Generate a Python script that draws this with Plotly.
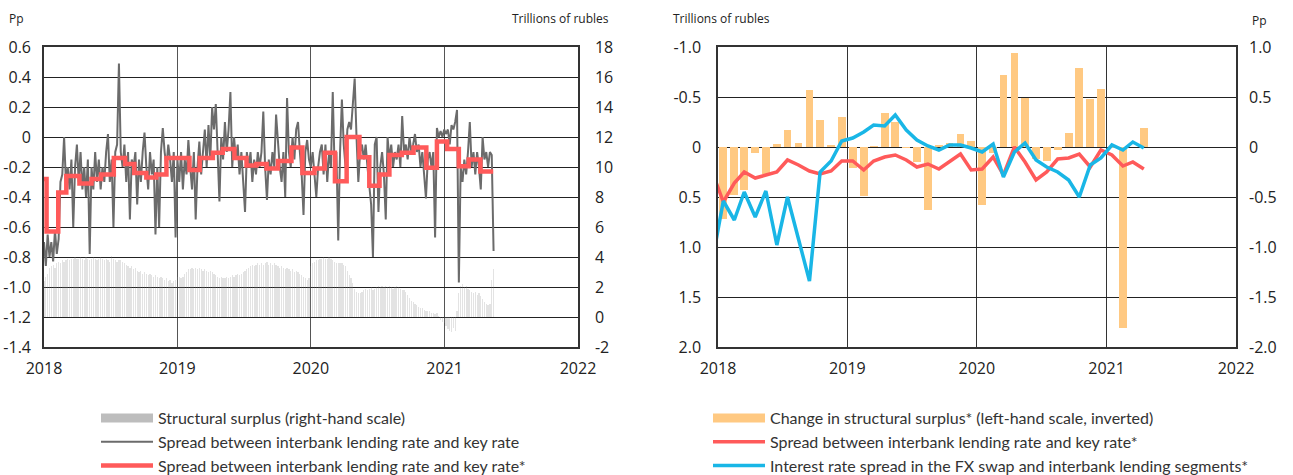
import plotly.graph_objects as go
import pandas as pd

# ---------------- Left chart data (5-day grid from 2018-01-01) ----------------
gray_2018 = [-0.70, -0.86, -0.65, -0.80, -0.70, -0.83, -0.62, -0.78, -0.68, -0.30,
             -0.25, 0.00, -0.30, -0.20, -0.35, -0.15, -0.60, -0.20, -0.05, -0.30,
             -0.10, -0.35, -0.20, -0.40, -0.15, -0.78, -0.20, -0.35, -0.10, -0.30,
             -0.15, -0.35, -0.20, -0.30, -0.10, 0.02, -0.30, -0.15, -0.60, -0.10,
             -0.05, 0.49, -0.10, -0.20, -0.05, -0.30, -0.10, -0.55, -0.15, -0.20,
             -0.10, -0.45, -0.15, -0.30, -0.10, 0.03, -0.20, -0.35, -0.10, -0.25,
             -0.15, -0.65, -0.20, -0.60, -0.10, 0.06, -0.10, -0.20, -0.05, -0.15,
             -0.30, -0.10, -0.67]
gray_2019 = [-0.15, -0.30, -0.10, -0.35, -0.15, -0.25, -0.02, -0.20, -0.35, -0.10,
             -0.55, -0.20, -0.03, -0.25, -0.10, 0.05, -0.20, 0.08, -0.15, 0.20,
             0.05, 0.22, -0.10, -0.43, 0.00, -0.15, 0.10, -0.10, 0.05, 0.30,
             -0.20, 0.00, -0.15, -0.05, -0.25, -0.10, -0.30, -0.50, -0.10, -0.20,
             -0.10, -0.30, -0.15, -0.25, -0.10, -0.20, -0.10, 0.17, -0.20, -0.42,
             -0.15, -0.25, -0.10, -0.20, 0.15, -0.05, -0.20, -0.30, -0.10, -0.40,
             0.26, -0.10, -0.20, 0.00, -0.15, 0.05, 0.10, -0.10, -0.25, -0.52,
             -0.10, -0.02, -0.15]
gray_2020 = [-0.20, -0.10, -0.25, -0.40, -0.20, -0.10, -0.05, -0.25, -0.05, -0.30,
             -0.10, -0.20, 0.30, -0.20, -0.10, -0.69, -0.10, 0.25, -0.05, -0.20,
             0.05, 0.10, 0.05, 0.20, 0.39, 0.00, -0.30, -0.10, -0.05, -0.15,
             -0.05, -0.20, -0.35, -0.45, -0.80, -0.05, 0.00, -0.50, -0.20, -0.10,
             -0.25, -0.55, 0.00, -0.15, -0.05, -0.20, -0.10, -0.15, -0.05, -0.20,
             0.14, -0.10, -0.05, -0.15, 0.00, -0.10, -0.05, 0.02, -0.10, -0.05,
             -0.20, -0.10, -0.25, -0.41, -0.15, -0.10, -0.20, -0.10, -0.67, 0.06,
             0.00, 0.04, 0.00, 0.05]
gray_2021 = [0.02, 0.05, -0.05, 0.08, 0.05, 0.10, 0.18, -0.97, -0.20, -0.30,
             -0.15, -0.25, -0.10, 0.10, -0.20, -0.10, -0.25, -0.10, -0.20, -0.35,
             0.00, -0.15, -0.10, -0.20, -0.10, -0.12, -0.76]

surplus_2018 = [2.4, 2.7, 2.9, 3.3, 3.4, 3.5, 3.3, 3.6, 3.7, 3.6,
                3.8, 3.7, 3.8, 3.9, 3.8, 3.9, 3.9, 4.0, 3.9, 3.9,
                4.0, 3.9, 3.8, 4.0, 3.9, 3.8, 3.9, 4.0, 3.9, 3.8,
                3.9, 4.0, 3.9, 3.8, 3.9, 3.8, 3.7, 4.1, 3.9, 3.8,
                3.7, 3.8, 3.8, 3.7, 3.6, 3.5, 3.4, 3.3, 3.4, 3.2,
                3.3, 3.1, 3.0, 3.1, 2.9, 3.0, 2.9, 2.8, 2.9, 2.8,
                2.7, 2.8, 2.7, 2.6, 2.7, 2.6, 2.5, 2.6, 2.4, 2.5,
                2.3, 2.4, 2.5]
surplus_2019 = [2.7, 2.7, 2.6, 2.7, 2.9, 3.0, 3.2, 3.2, 3.3, 3.2,
                3.3, 3.2, 3.3, 3.2, 3.1, 3.2, 3.1, 3.0, 3.1, 3.0,
                2.9, 2.8, 2.7, 2.6, 2.7, 2.6, 2.6, 2.7, 2.6, 2.7,
                2.8, 2.7, 2.8, 2.9, 2.8, 2.9, 3.0, 3.1, 3.2, 3.3,
                3.4, 3.5, 3.4, 3.5, 3.6, 3.5, 3.6, 3.5, 3.6, 3.7,
                3.5, 3.6, 3.5, 3.6, 3.5, 3.4, 3.3, 3.4, 3.3, 3.2,
                3.3, 3.2, 3.1, 3.2, 3.0, 3.1, 3.0, 2.9, 2.8, 2.7,
                2.6, 2.5, 2.6]
surplus_2020 = [3.4, 3.6, 3.7, 3.8, 3.8, 3.9, 3.9, 4.0, 3.9, 3.9,
                4.0, 3.9, 3.8, 3.7, 3.6, 3.6, 3.6, 3.6, 3.5, 3.4,
                3.1, 2.8, 2.6, 2.3, 1.9, 1.7, 1.6, 1.6, 1.7, 1.8,
                1.9, 1.8, 1.9, 2.0, 1.8, 1.9, 2.0, 2.1, 2.0, 2.1,
                2.0, 2.1, 2.0, 2.1, 2.0, 1.9, 2.0, 2.1, 2.0, 1.9,
                1.8, 1.8, 1.7, 1.5, 1.3, 1.1, 1.0, 0.9, 0.8, 0.7,
                0.6, 0.6, 0.5, 0.4, 0.4, 0.4, 0.3, 0.3, 0.2, 0.3,
                0.1, -0.2, -0.3, -0.4]
surplus_2021 = [-0.6, -0.8, -0.9, -1.0, -0.7, -0.9, 0.4, 1.6, 2.1, 2.2,
                2.0, 2.1, 1.9, 1.8, 1.7, 1.6, 1.7, 1.5, 1.6, 1.4,
                1.2, 1.0, 0.9, 0.8, 0.9, 2.5, 3.2]

# Averaging-period spread (step line): period start dates and values
step_dates = ['2018-01-01', '2018-01-08', '2018-02-09', '2018-03-03', '2018-04-08',
              '2018-05-11', '2018-06-06', '2018-07-11', '2018-08-11', '2018-09-05',
              '2018-10-08', '2018-11-04', '2018-12-02', '2019-02-03', '2019-03-03',
              '2019-04-08', '2019-05-05', '2019-06-06', '2019-07-09', '2019-08-05',
              '2019-09-02', '2019-10-03', '2019-11-09', '2019-12-09', '2020-01-11',
              '2020-02-08', '2020-03-07', '2020-04-08', '2020-05-13', '2020-06-09',
              '2020-07-07', '2020-08-03', '2020-09-06', '2020-10-08', '2020-11-12',
              '2020-12-11', '2021-01-08', '2021-02-09', '2021-03-08', '2021-04-09',
              '2021-05-14']
step_vals = [-0.28, -0.63, -0.37, -0.26, -0.31,
             -0.28, -0.25, -0.14, -0.18, -0.24,
             -0.27, -0.25, -0.14, -0.22, -0.14,
             -0.105, -0.08, -0.14, -0.19, -0.18,
             -0.21, -0.16, -0.07, -0.24, -0.21,
             -0.105, -0.295, 0.00, -0.135, -0.325,
             -0.25, -0.12, -0.105, -0.07, -0.205,
             -0.03, -0.08, -0.195, -0.15, -0.23,
             -0.23]

# ---------------- Right chart data (monthly) ----------------
bar_change = [0.72, 0.48, 0.43, 0.06, 0.27, -0.03, -0.17, -0.04, -0.57, -0.27, -0.02, -0.30,
              0.21, 0.49, -0.01, -0.34, -0.25, 0.01, 0.15, 0.63, -0.02, -0.04, -0.13, -0.06,
              0.58, 0.06, -0.72, -0.94, -0.49, 0.12, 0.14, 0.03, -0.14, -0.79, -0.48, -0.58,
              0.01, 1.81, 0.00, -0.19]
# lines start one month earlier (Dec 2017)
red_spread = [-0.25,
              -0.55, -0.36, -0.25, -0.31, -0.28, -0.25, -0.13, -0.18, -0.24, -0.27, -0.24, -0.14,
              -0.14, -0.23, -0.14, -0.10, -0.08, -0.13, -0.20, -0.17, -0.22, -0.15, -0.07, -0.23,
              -0.22, -0.10, -0.28, 0.00, -0.15, -0.33, -0.25, -0.12, -0.11, -0.07, -0.20, -0.03,
              -0.08, -0.19, -0.15, -0.22]
blue_spread = [-1.14,
               -0.54, -0.73, -0.45, -0.70, -0.44, -0.98, -0.50, -0.92, -1.34, -0.25, -0.14, 0.06,
               0.09, 0.15, 0.22, 0.21, 0.32, 0.17, 0.07, 0.01, -0.03, 0.02, 0.02, -0.01,
               -0.05, 0.03, -0.30, -0.05, 0.04, -0.13, -0.20, -0.25, -0.33, -0.50, -0.18, -0.11,
               0.02, -0.03, 0.05, -0.01]

year_ticks = ['2018-01-01', '2019-01-01', '2020-01-01', '2021-01-01', '2022-01-01']
year_labels = ['2018', '2019', '2020', '2021', '2022']

# ---------------- Build ----------------
gray_vals = gray_2018 + gray_2019 + gray_2020 + gray_2021
surplus_vals = surplus_2018 + surplus_2019 + surplus_2020 + surplus_2021
grid_dates = pd.date_range('2018-01-01', periods=len(gray_vals), freq='5D')
month_mid = pd.date_range('2017-12-01', periods=len(red_spread), freq='MS') + pd.Timedelta(days=15)
bar_months = month_mid[1:]

DAY = 86400000
W = 1293
H = 475
FONT = "Open Sans"
LEGFONT = "Lato"


def px(x):
    return x / W


def py(y):
    return 1 - y / H


fig = go.Figure()

# left chart
fig.add_trace(go.Bar(x=grid_dates, y=surplus_vals, xaxis='x', yaxis='y',
                     width=3.4 * DAY, marker=dict(color='rgba(140,140,140,0.24)', line=dict(width=0)),
                     showlegend=False, hoverinfo='skip'))
fig.add_trace(go.Scatter(x=[None], y=[None], mode='lines', xaxis='x', yaxis='y2',
                         line=dict(color='#bdbdbd', width=9),
                         name='Structural surplus (right-hand scale)', legend='legend',
                         legendgroup='a'))
fig.add_trace(go.Scatter(x=grid_dates, y=gray_vals, mode='lines', xaxis='x', yaxis='y2',
                         line=dict(color='#6b6b6b', width=2),
                         name='Spread between interbank lending rate and key rate',
                         legend='legend', legendgroup='b'))
fig.add_trace(go.Scatter(x=step_dates, y=step_vals, mode='lines', xaxis='x', yaxis='y2',
                         line=dict(color='#ff5a5a', width=4.5, shape='hv'),
                         name='Spread between interbank lending rate and key rate*',
                         legend='legend', legendgroup='c'))

# right chart
fig.add_trace(go.Bar(x=bar_months, y=bar_change, xaxis='x2', yaxis='y3',
                     width=22 * DAY, marker=dict(color='#ffc982', line=dict(width=0)),
                     showlegend=False, hoverinfo='skip'))
fig.add_trace(go.Scatter(x=[None], y=[None], mode='lines', xaxis='x2', yaxis='y4',
                         line=dict(color='#ffc982', width=9),
                         name='Change in structural surplus* (left-hand scale, inverted)',
                         legend='legend2', legendgroup='d'))
fig.add_trace(go.Scatter(x=month_mid, y=red_spread, mode='lines', xaxis='x2', yaxis='y4',
                         line=dict(color='#ff5a5a', width=3.5),
                         name='Spread between interbank lending rate and key rate*',
                         legend='legend2', legendgroup='e'))
fig.add_trace(go.Scatter(x=month_mid, y=blue_spread, mode='lines', xaxis='x2', yaxis='y4',
                         line=dict(color='#19b6e6', width=3.5),
                         name='Interest rate spread in the FX swap and interbank lending segments*',
                         legend='legend2', legendgroup='f'))

tickfont = dict(family=FONT, size=16, color='#222')
gridc = '#222'

xl = dict(domain=[px(44), px(578)], range=['2018-01-01', '2022-01-01'], type='date',
          tickvals=year_ticks, ticktext=year_labels, showgrid=True, gridcolor='#555',
          gridwidth=1, showline=True, linecolor='#333', linewidth=1.5, mirror=True,
          ticks='', tickfont=tickfont, zeroline=False, ticklabelstandoff=6)
xr = dict(xl)
xr['domain'] = [px(718), px(1236)]
xr['gridcolor'] = '#333'

ydom = [py(347), py(47)]
legfont = dict(family=LEGFONT, size=16, color='#333')

lay = dict(
    width=W, height=H, margin=dict(l=0, r=0, t=0, b=0, autoexpand=False),
    paper_bgcolor='white', plot_bgcolor='white',
    barmode='overlay', bargap=0,
    xaxis=dict(xl, anchor='y'),
    yaxis=dict(domain=ydom, range=[-2, 18], side='right', anchor='x',
               tickvals=list(range(-2, 19, 2)), ticktext=[str(v) for v in range(-2, 19, 2)],
               showgrid=True, gridcolor=gridc, gridwidth=1, zeroline=False,
               showline=True, linecolor='#333', linewidth=1.5, mirror=True,
               ticks='', tickfont=tickfont, ticklabelstandoff=12),
    yaxis2=dict(range=[-1.4, 0.6], overlaying='y', side='left', anchor='x',
                tickvals=[0.6, 0.4, 0.2, 0, -0.2, -0.4, -0.6, -0.8, -1.0, -1.2, -1.4],
                ticktext=['0.6', '0.4', '0.2', '0', '-0.2', '-0.4', '-0.6', '-0.8', '-1.0', '-1.2', '-1.4'],
                showgrid=False, zeroline=False, ticks='', tickfont=tickfont, ticklabelstandoff=12),
    xaxis2=dict(xr, anchor='y3'),
    yaxis3=dict(domain=ydom, range=[2, -1], side='left', anchor='x2',
                tickvals=[-1.0, -0.5, 0, 0.5, 1.0, 1.5, 2.0],
                ticktext=['-1.0', '-0.5', '0', '0.5', '1.0', '1.5', '2.0'],
                showgrid=True, gridcolor=gridc, gridwidth=1, zeroline=False,
                showline=True, linecolor='#333', linewidth=1.5, mirror=True,
                ticks='', tickfont=tickfont, ticklabelstandoff=12),
    yaxis4=dict(range=[-2, 1], overlaying='y3', side='right', anchor='x2',
                tickvals=[1.0, 0.5, 0, -0.5, -1.0, -1.5, -2.0],
                ticktext=['1.0', '0.5', '0', '-0.5', '-1.0', '-1.5', '-2.0'],
                showgrid=False, zeroline=False, ticks='', tickfont=tickfont, ticklabelstandoff=12),
    legend=dict(x=px(96), y=py(401), xanchor='left', yanchor='top',
                font=legfont, itemwidth=52,
                traceorder='grouped', tracegroupgap=0, bgcolor='rgba(0,0,0,0)'),
    legend2=dict(x=px(708), y=py(401), xanchor='left', yanchor='top',
                 font=legfont, itemwidth=52,
                 traceorder='grouped', tracegroupgap=0, bgcolor='rgba(0,0,0,0)'),
    showlegend=True,
    annotations=[
        dict(text='Pp', x=px(7), y=py(18), xref='paper', yref='paper',
             xanchor='left', yanchor='middle', showarrow=False,
             font=dict(family=FONT, size=12, color='#222')),
        dict(text='Trillions of rubles', x=px(611), y=py(18), xref='paper', yref='paper',
             xanchor='right', yanchor='middle', showarrow=False,
             font=dict(family=FONT, size=12, color='#222')),
        dict(text='Trillions of rubles', x=px(671), y=py(18), xref='paper', yref='paper',
             xanchor='left', yanchor='middle', showarrow=False,
             font=dict(family=FONT, size=12, color='#222')),
        dict(text='Pp', x=px(1250), y=py(20), xref='paper', yref='paper',
             xanchor='left', yanchor='middle', showarrow=False,
             font=dict(family=FONT, size=12, color='#222')),
    ],
)
fig.update_layout(**lay)
# remove the default page margin so the figure sits at the window's top-left corner
fig.write_html("out.html", config={'displayModeBar': False},
               post_script="document.body.style.margin='0px';")
